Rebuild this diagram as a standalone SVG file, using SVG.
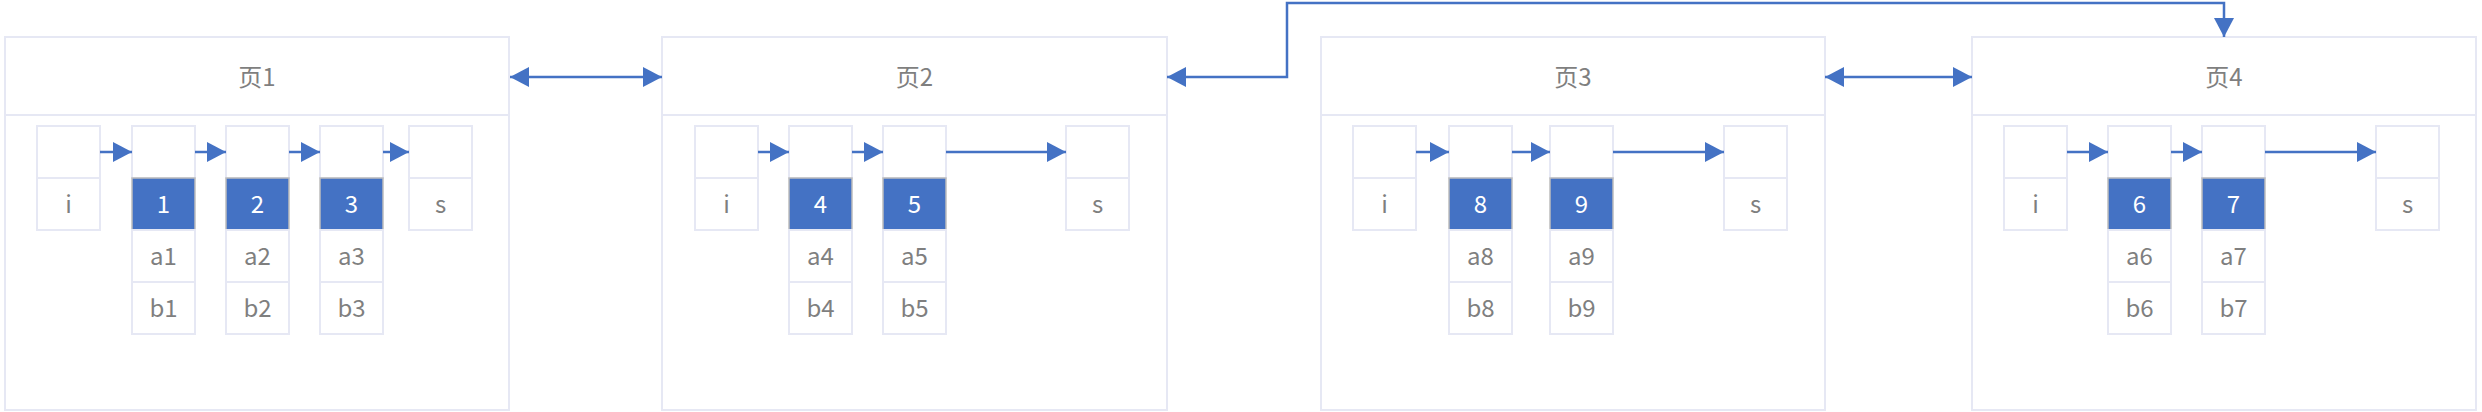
<svg xmlns="http://www.w3.org/2000/svg" width="2482" height="412" viewBox="0 0 2482 412">
<style>
.page{fill:#fff;stroke:#E6E8F4;stroke-width:2}
.hdr{stroke:#E6E8F4;stroke-width:2}
.c{fill:#fff;stroke:#E6E8F4;stroke-width:2}
.k{fill:#4472C4;stroke:#BDBDBD;stroke-width:1.5}
.t{font-family:"Noto Sans CJK SC","Noto Sans",sans-serif;font-size:24px;fill:#7F7F7F;text-anchor:middle}
.w{font-family:"Noto Sans CJK SC","Noto Sans",sans-serif;font-size:24px;fill:#fff;text-anchor:middle}
.ln{fill:none;stroke:#4472C4;stroke-width:2.5}
</style>
<defs>
<marker id="ah" viewBox="0 0 19 20" refX="19" refY="10" markerWidth="19" markerHeight="20" markerUnits="userSpaceOnUse" orient="auto-start-reverse">
<path d="M0,0 L19,10 L0,20 z" fill="#4472C4"/>
</marker>
</defs>

<g id="page1">
<rect class="page" x="5" y="37" width="504" height="373"/>
<line class="hdr" x1="5" y1="115" x2="509" y2="115"/>
<text class="t" x="257" y="86">页1</text>
<rect class="c" x="37" y="126" width="63" height="52"/><rect class="c" x="37" y="178" width="63" height="52"/><text class="t" x="68.5" y="212.5">i</text>
<rect class="c" x="132" y="126" width="63" height="52"/><rect class="k" x="132" y="178" width="63" height="52"/><text class="w" x="163.5" y="212.5">1</text><rect class="c" x="132" y="230" width="63" height="52"/><text class="t" x="163.5" y="264.5">a1</text><rect class="c" x="132" y="282" width="63" height="52"/><text class="t" x="163.5" y="316.5">b1</text>
<rect class="c" x="226" y="126" width="63" height="52"/><rect class="k" x="226" y="178" width="63" height="52"/><text class="w" x="257.5" y="212.5">2</text><rect class="c" x="226" y="230" width="63" height="52"/><text class="t" x="257.5" y="264.5">a2</text><rect class="c" x="226" y="282" width="63" height="52"/><text class="t" x="257.5" y="316.5">b2</text>
<rect class="c" x="320" y="126" width="63" height="52"/><rect class="k" x="320" y="178" width="63" height="52"/><text class="w" x="351.5" y="212.5">3</text><rect class="c" x="320" y="230" width="63" height="52"/><text class="t" x="351.5" y="264.5">a3</text><rect class="c" x="320" y="282" width="63" height="52"/><text class="t" x="351.5" y="316.5">b3</text>
<rect class="c" x="409" y="126" width="63" height="52"/><rect class="c" x="409" y="178" width="63" height="52"/><text class="t" x="440.5" y="212.5">s</text>
</g>

<g id="page2">
<rect class="page" x="662" y="37" width="505" height="373"/>
<line class="hdr" x1="662" y1="115" x2="1167" y2="115"/>
<text class="t" x="914.5" y="86">页2</text>
<rect class="c" x="695" y="126" width="63" height="52"/><rect class="c" x="695" y="178" width="63" height="52"/><text class="t" x="726.5" y="212.5">i</text>
<rect class="c" x="789" y="126" width="63" height="52"/><rect class="k" x="789" y="178" width="63" height="52"/><text class="w" x="820.5" y="212.5">4</text><rect class="c" x="789" y="230" width="63" height="52"/><text class="t" x="820.5" y="264.5">a4</text><rect class="c" x="789" y="282" width="63" height="52"/><text class="t" x="820.5" y="316.5">b4</text>
<rect class="c" x="883" y="126" width="63" height="52"/><rect class="k" x="883" y="178" width="63" height="52"/><text class="w" x="914.5" y="212.5">5</text><rect class="c" x="883" y="230" width="63" height="52"/><text class="t" x="914.5" y="264.5">a5</text><rect class="c" x="883" y="282" width="63" height="52"/><text class="t" x="914.5" y="316.5">b5</text>
<rect class="c" x="1066" y="126" width="63" height="52"/><rect class="c" x="1066" y="178" width="63" height="52"/><text class="t" x="1097.5" y="212.5">s</text>
</g>

<g id="page3">
<rect class="page" x="1321" y="37" width="504" height="373"/>
<line class="hdr" x1="1321" y1="115" x2="1825" y2="115"/>
<text class="t" x="1573" y="86">页3</text>
<rect class="c" x="1353" y="126" width="63" height="52"/><rect class="c" x="1353" y="178" width="63" height="52"/><text class="t" x="1384.5" y="212.5">i</text>
<rect class="c" x="1449" y="126" width="63" height="52"/><rect class="k" x="1449" y="178" width="63" height="52"/><text class="w" x="1480.5" y="212.5">8</text><rect class="c" x="1449" y="230" width="63" height="52"/><text class="t" x="1480.5" y="264.5">a8</text><rect class="c" x="1449" y="282" width="63" height="52"/><text class="t" x="1480.5" y="316.5">b8</text>
<rect class="c" x="1550" y="126" width="63" height="52"/><rect class="k" x="1550" y="178" width="63" height="52"/><text class="w" x="1581.5" y="212.5">9</text><rect class="c" x="1550" y="230" width="63" height="52"/><text class="t" x="1581.5" y="264.5">a9</text><rect class="c" x="1550" y="282" width="63" height="52"/><text class="t" x="1581.5" y="316.5">b9</text>
<rect class="c" x="1724" y="126" width="63" height="52"/><rect class="c" x="1724" y="178" width="63" height="52"/><text class="t" x="1755.5" y="212.5">s</text>
</g>

<g id="page4">
<rect class="page" x="1972" y="37" width="504" height="373"/>
<line class="hdr" x1="1972" y1="115" x2="2476" y2="115"/>
<text class="t" x="2224" y="86">页4</text>
<rect class="c" x="2004" y="126" width="63" height="52"/><rect class="c" x="2004" y="178" width="63" height="52"/><text class="t" x="2035.5" y="212.5">i</text>
<rect class="c" x="2108" y="126" width="63" height="52"/><rect class="k" x="2108" y="178" width="63" height="52"/><text class="w" x="2139.5" y="212.5">6</text><rect class="c" x="2108" y="230" width="63" height="52"/><text class="t" x="2139.5" y="264.5">a6</text><rect class="c" x="2108" y="282" width="63" height="52"/><text class="t" x="2139.5" y="316.5">b6</text>
<rect class="c" x="2202" y="126" width="63" height="52"/><rect class="k" x="2202" y="178" width="63" height="52"/><text class="w" x="2233.5" y="212.5">7</text><rect class="c" x="2202" y="230" width="63" height="52"/><text class="t" x="2233.5" y="264.5">a7</text><rect class="c" x="2202" y="282" width="63" height="52"/><text class="t" x="2233.5" y="316.5">b7</text>
<rect class="c" x="2376" y="126" width="63" height="52"/><rect class="c" x="2376" y="178" width="63" height="52"/><text class="t" x="2407.5" y="212.5">s</text>
</g>

<g id="connectors">
<path class="ln" d="M100,152 H132" marker-end="url(#ah)"/>
<path class="ln" d="M195,152 H226" marker-end="url(#ah)"/>
<path class="ln" d="M289,152 H320" marker-end="url(#ah)"/>
<path class="ln" d="M383,152 H409" marker-end="url(#ah)"/>
<path class="ln" d="M758,152 H789" marker-end="url(#ah)"/>
<path class="ln" d="M852,152 H883" marker-end="url(#ah)"/>
<path class="ln" d="M946,152 H1066" marker-end="url(#ah)"/>
<path class="ln" d="M1416,152 H1449" marker-end="url(#ah)"/>
<path class="ln" d="M1512,152 H1550" marker-end="url(#ah)"/>
<path class="ln" d="M1613,152 H1724" marker-end="url(#ah)"/>
<path class="ln" d="M2067,152 H2108" marker-end="url(#ah)"/>
<path class="ln" d="M2171,152 H2202" marker-end="url(#ah)"/>
<path class="ln" d="M2265,152 H2376" marker-end="url(#ah)"/>
<path class="ln" d="M510,77 H662" marker-start="url(#ah)" marker-end="url(#ah)"/>
<path class="ln" d="M1825,77 H1972" marker-start="url(#ah)" marker-end="url(#ah)"/>
<path class="ln" d="M1167,77 H1287 V3 H2224 V37" marker-start="url(#ah)" marker-end="url(#ah)"/>
</g>
</svg>
